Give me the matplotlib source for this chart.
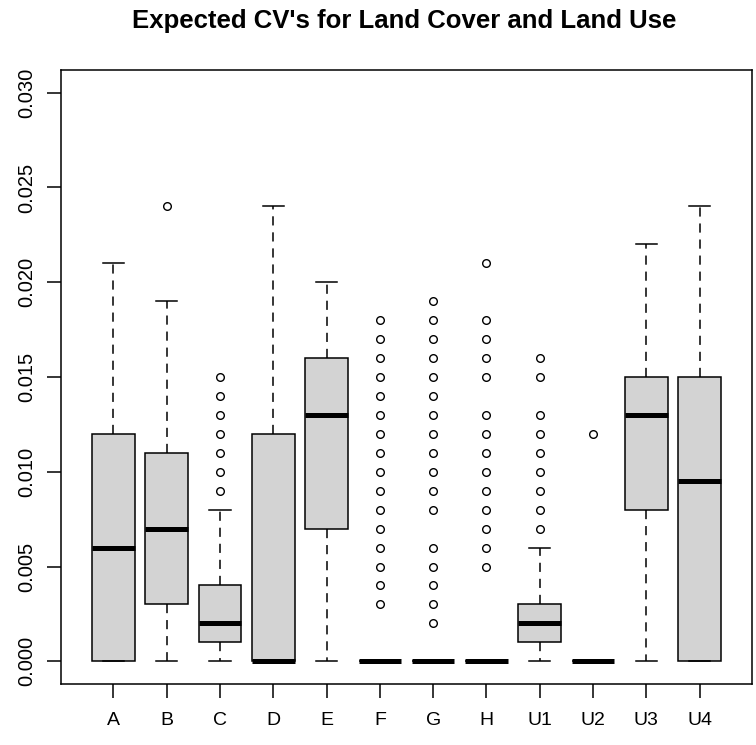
import matplotlib
matplotlib.use("Agg")
import matplotlib.pyplot as plt

plt.rcParams["font.family"] = ["Liberation Sans", "DejaVu Sans"]

categories = ["A", "B", "C", "D", "E", "F", "G", "H", "U1", "U2", "U3", "U4"]

# five-number summaries per class
q1 = [0.000, 0.003, 0.001, 0.000, 0.007, 0.000, 0.000, 0.000, 0.001, 0.000, 0.008, 0.000]
median = [0.006, 0.007, 0.002, 0.000, 0.013, 0.000, 0.000, 0.000, 0.002, 0.000, 0.013, 0.0095]
q3 = [0.012, 0.011, 0.004, 0.012, 0.016, 0.000, 0.000, 0.000, 0.003, 0.000, 0.015, 0.015]
whisker_low = [0.000] * 12
whisker_high = [0.021, 0.019, 0.008, 0.024, 0.020, 0.000, 0.000, 0.000, 0.006, 0.000, 0.022, 0.024]

# outlying values per class
outliers = [
    [],
    [0.024],
    [0.009, 0.010, 0.011, 0.012, 0.013, 0.014, 0.015],
    [],
    [],
    [0.003, 0.004, 0.005, 0.006, 0.007, 0.008, 0.009, 0.010, 0.011,
     0.012, 0.013, 0.014, 0.015, 0.016, 0.017, 0.018],
    [0.002, 0.003, 0.004, 0.005, 0.006, 0.008, 0.009, 0.010, 0.011,
     0.012, 0.013, 0.014, 0.015, 0.016, 0.017, 0.018, 0.019],
    [0.005, 0.006, 0.007, 0.008, 0.009, 0.010, 0.011, 0.012, 0.013,
     0.015, 0.016, 0.017, 0.018, 0.021],
    [0.007, 0.008, 0.009, 0.010, 0.011, 0.012, 0.013, 0.015, 0.016],
    [0.012],
    [],
    [],
]

y_ticks = [0.000, 0.005, 0.010, 0.015, 0.020, 0.025, 0.030]
y_tick_labels = ["0.000", "0.005", "0.010", "0.015", "0.020", "0.025", "0.030"]
title = "Expected CV's for Land Cover and Land Use"

stats = []
for i, name in enumerate(categories):
    stats.append(dict(label=name, q1=q1[i], med=median[i], q3=q3[i],
                      whislo=whisker_low[i], whishi=whisker_high[i],
                      fliers=outliers[i]))

fig = plt.figure(figsize=(7.56, 7.45), dpi=100)
ax = fig.add_axes([61 / 756, 1 - 684 / 745, (752 - 61) / 756, (684 - 70) / 745])

lw = 1.1
ax.bxp(
    stats,
    positions=range(1, len(categories) + 1),
    widths=0.8,
    capwidths=0.4,
    patch_artist=True,
    showfliers=True,
    boxprops=dict(facecolor="#D3D3D3", edgecolor="black", linewidth=lw),
    medianprops=dict(color="black", linewidth=3.6, solid_capstyle="butt"),
    whiskerprops=dict(color="black", linewidth=lw, linestyle=(0, (6, 4.5))),
    capprops=dict(color="black", linewidth=lw),
    flierprops=dict(marker="o", markerfacecolor="none", markeredgecolor="black",
                    markersize=5.5, markeredgewidth=1.0, linestyle="none"),
)

ax.set_xlim(0.02, 12.98)
ax.set_ylim(-0.0012, 0.0312)
ax.set_xticks(range(1, len(categories) + 1))
ax.set_xticklabels(categories)
ax.set_yticks(y_ticks)
ax.set_yticklabels(y_tick_labels, rotation=90, va="center")

ax.tick_params(axis="x", length=10, width=lw, pad=10, labelsize=14, colors="black")
ax.tick_params(axis="y", length=10, width=lw, pad=8, labelsize=14.5, colors="black")
for s in ax.spines.values():
    s.set_linewidth(lw)
    s.set_color("black")

fig.text(404 / 756, 1 - 28 / 745, title, ha="center", va="baseline",
         fontsize=18.5, fontweight="bold")

fig.savefig("out.png", dpi=100, facecolor="white")
